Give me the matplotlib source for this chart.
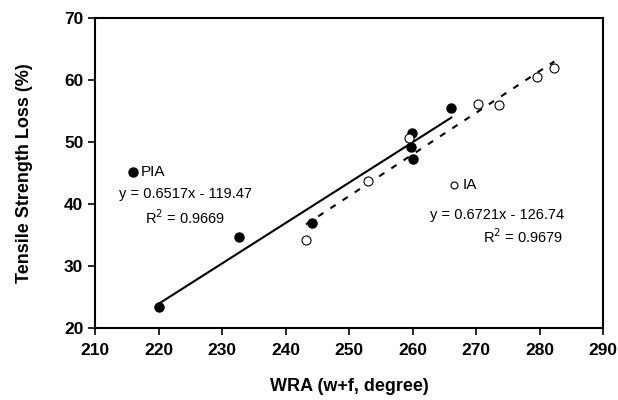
import numpy as np
import matplotlib.pyplot as plt

plt.rcParams['font.family'] = ['Liberation Sans', 'DejaVu Sans']

# PIA data (filled circles)
pia_x = [220.1, 232.6, 244.2, 259.8, 259.9, 260.1, 266.1]
pia_y = [23.4, 34.7, 37.0, 49.2, 51.5, 47.3, 55.5]

# IA data (open circles)
ia_x = [243.2, 253.0, 259.4, 270.3, 273.6, 279.6, 282.3]
ia_y = [34.2, 43.7, 50.7, 56.1, 56.0, 60.5, 61.9]

# regression coefficients (slope, intercept)
pia_fit = [0.6517, -119.47]
ia_fit = [0.6721, -126.74]

xticks = [210, 220, 230, 240, 250, 260, 270, 280, 290]
yticks = [20, 30, 40, 50, 60, 70]

fig = plt.figure(figsize=(6.18, 4.0), dpi=100)
ax = fig.add_axes([0.154, 0.18, 0.822, 0.775])

# trend lines
xs = np.array([min(pia_x), max(pia_x)])
ax.plot(xs, pia_fit[0] * xs + pia_fit[1], color='black', lw=1.5)
xs = np.array([min(ia_x), max(ia_x)])
ax.plot(xs, ia_fit[0] * xs + ia_fit[1], color='black', lw=1.5,
        linestyle=(0, (3, 4)))

ax.plot(pia_x, pia_y, 'o', color='black', markersize=6.5, zorder=3)
ax.plot(ia_x, ia_y, 'o', markerfacecolor='white', markeredgecolor='black',
        markeredgewidth=0.8, markersize=6.5, zorder=3)

# series labels and equations
ax.plot([216.0], [45.2], 'o', color='black', markersize=6.5)
ax.text(217.2, 45.2, 'PIA', fontsize=11, va='center')
ax.text(213.8, 41.6, 'y = 0.6517x - 119.47', fontsize=10.5, va='center')
ax.text(224.2, 37.8, 'R$^2$ = 0.9669', fontsize=10.5, va='center', ha='center')

ax.plot([266.5], [43.0], 'o', markerfacecolor='white',
        markeredgecolor='black', markeredgewidth=0.8, markersize=5)
ax.text(267.8, 43.0, 'IA', fontsize=11, va='center')
ax.text(262.8, 38.2, 'y = 0.6721x - 126.74', fontsize=10.5, va='center')
ax.text(277.4, 34.8, 'R$^2$ = 0.9679', fontsize=10.5, va='center', ha='center')

ax.set_xlim(210, 290)
ax.set_ylim(20, 70)
ax.set_xticks(xticks)
ax.set_yticks(yticks)
ax.tick_params(direction='out', length=5, width=1.2, labelsize=12.5)
ax.tick_params(axis='x', pad=6)
for lab in ax.get_xticklabels() + ax.get_yticklabels():
    lab.set_fontweight('bold')
for s in ax.spines.values():
    s.set_linewidth(1.5)

ax.set_xlabel('WRA (w+f, degree)', fontsize=13, fontweight='bold', labelpad=14)
ax.set_ylabel('Tensile Strength Loss (%)', fontsize=13, fontweight='bold',
              labelpad=22)

fig.savefig('out.png', dpi=100)
